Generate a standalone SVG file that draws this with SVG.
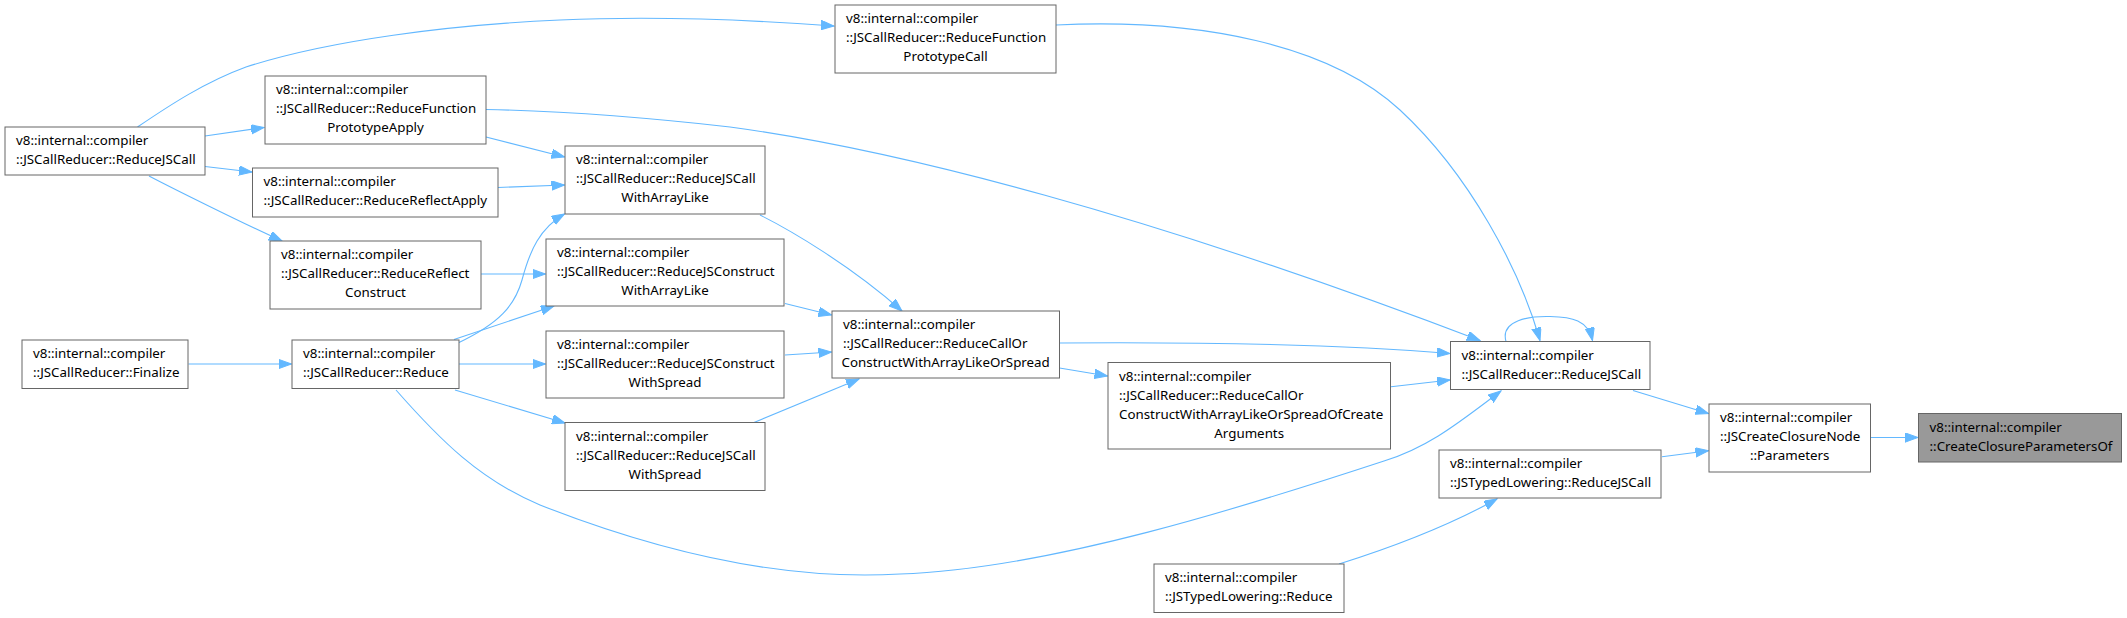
<svg xmlns="http://www.w3.org/2000/svg" width="2127" height="618" viewBox="0 0 2127 618">
<style>
.n rect{fill:#ffffff;stroke:#666666;stroke-width:1}
.n.t rect{fill:#999999}
.n text{font-family:"Noto Sans","Open Sans","DejaVu Sans",sans-serif;font-size:13.33px;fill:#000000}
.n text.c{text-anchor:middle}
.e path{fill:none;stroke:#63b8ff;stroke-width:1.1;marker-end:url(#arr)}
</style>
<defs>
<marker id="arr" markerUnits="userSpaceOnUse" markerWidth="14" markerHeight="10" refX="13" refY="4.7" orient="auto" viewBox="0 0 14 10">
<path d="M0,0 L13,4.7 L0,9.4 Z" fill="#63b8ff" stroke="#63b8ff" stroke-width="1"/>
</marker>
</defs>
<rect width="2127" height="618" fill="#ffffff"/>
<g id="edges" class="e">
<path d="M137.5,127 C170,105 205,82 246,67 C330,40 450,25 560,20 C650,16 740,19 834,26"/>
<path d="M205,136 L264,127.5"/>
<path d="M205,166.5 L252,172"/>
<path d="M149,176 C170,187 240,222 282,241"/>
<path d="M188.5,364 L291.5,364"/>
<path d="M486,137 L564.5,157"/>
<path d="M498,187.5 L564.5,185"/>
<path d="M481,274 L545.5,274"/>
<path d="M458,343 C500,323 515,305 522,280 C530,250 540,228 564.5,214"/>
<path d="M454,339.5 L554,306"/>
<path d="M459,364 L545.5,364"/>
<path d="M455,390 L565,423"/>
<path d="M396,390 C440,440 480,480 540,505 C680,560 800,580 900,574 C1050,569 1250,505 1384,461 C1430,447 1462,420 1501,391"/>
<path d="M760,215 C790,230 850,265 902,311"/>
<path d="M785,303.5 L831.5,315"/>
<path d="M785,355 L831.5,352"/>
<path d="M754,422.5 L859,379"/>
<path d="M1059.5,343 C1200,342 1350,345 1450,353.5"/>
<path d="M1059.5,368 L1107.5,376"/>
<path d="M1391,386.7 L1450,380"/>
<path d="M1056,25 C1200,18 1330,45 1400,110 C1470,175 1520,270 1540,340.5"/>
<path d="M486,109.5 C560,111 650,118 730,127 C900,150 1150,215 1480,340.5"/>
<path d="M1506,341.5 C1500,320 1530,316 1550,316.5 C1572,317 1588,320 1592.5,340.5"/>
<path d="M1633,390.5 L1708.5,413.5"/>
<path d="M1662,456.7 L1708.5,450.7"/>
<path d="M1870.5,437.5 L1918,437.5"/>
<path d="M1339,564 C1390,548 1450,525 1497,499"/>
</g>
<g id="n1" class="n"><rect x="5" y="127" width="200" height="48"/><text x="16" y="145.3">v8::internal::compiler</text><text x="16" y="164.3">::JSCallReducer::ReduceJSCall</text></g>
<g id="n2" class="n"><rect x="265" y="76" width="221" height="68"/><text x="276" y="94.3">v8::internal::compiler</text><text x="276" y="113.3">::JSCallReducer::ReduceFunction</text><text class="c" x="375.5" y="132.3">PrototypeApply</text></g>
<g id="n3" class="n"><rect x="252.5" y="168" width="245.5" height="49"/><text x="263.5" y="186.3">v8::internal::compiler</text><text x="263.5" y="205.3">::JSCallReducer::ReduceReflectApply</text></g>
<g id="n4" class="n"><rect x="270" y="241" width="211" height="68"/><text x="281" y="259.3">v8::internal::compiler</text><text x="281" y="278.3">::JSCallReducer::ReduceReflect</text><text class="c" x="375.5" y="297.3">Construct</text></g>
<g id="n5" class="n"><rect x="22" y="340" width="166" height="48.5"/><text x="33" y="358.3">v8::internal::compiler</text><text x="33" y="377.3">::JSCallReducer::Finalize</text></g>
<g id="n6" class="n"><rect x="292" y="340" width="167" height="48.5"/><text x="303" y="358.3">v8::internal::compiler</text><text x="303" y="377.3">::JSCallReducer::Reduce</text></g>
<g id="n7" class="n"><rect x="835" y="5" width="221" height="68"/><text x="846" y="23.3">v8::internal::compiler</text><text x="846" y="42.3">::JSCallReducer::ReduceFunction</text><text class="c" x="945.5" y="61.3">PrototypeCall</text></g>
<g id="n8" class="n"><rect x="565" y="146" width="200" height="68"/><text x="576" y="164.3">v8::internal::compiler</text><text x="576" y="183.3">::JSCallReducer::ReduceJSCall</text><text class="c" x="665" y="202.3">WithArrayLike</text></g>
<g id="n9" class="n"><rect x="546" y="239" width="238" height="67"/><text x="557" y="257.3">v8::internal::compiler</text><text x="557" y="276.3">::JSCallReducer::ReduceJSConstruct</text><text class="c" x="665" y="295.3">WithArrayLike</text></g>
<g id="n10" class="n"><rect x="546" y="331" width="238" height="67"/><text x="557" y="349.3">v8::internal::compiler</text><text x="557" y="368.3">::JSCallReducer::ReduceJSConstruct</text><text class="c" x="665" y="387.3">WithSpread</text></g>
<g id="n11" class="n"><rect x="565" y="422.5" width="200" height="68"/><text x="576" y="440.8">v8::internal::compiler</text><text x="576" y="459.8">::JSCallReducer::ReduceJSCall</text><text class="c" x="665" y="478.8">WithSpread</text></g>
<g id="n12" class="n"><rect x="832" y="311" width="227.5" height="67"/><text x="843" y="329.3">v8::internal::compiler</text><text x="843" y="348.3">::JSCallReducer::ReduceCallOr</text><text class="c" x="945.7" y="367.3">ConstructWithArrayLikeOrSpread</text></g>
<g id="n13" class="n"><rect x="1108" y="362.5" width="282.5" height="86.5"/><text x="1119" y="380.8">v8::internal::compiler</text><text x="1119" y="399.8">::JSCallReducer::ReduceCallOr</text><text x="1119" y="418.8">ConstructWithArrayLikeOrSpreadOfCreate</text><text class="c" x="1249.2" y="437.8">Arguments</text></g>
<g id="n14" class="n"><rect x="1450.5" y="341.5" width="199.5" height="48"/><text x="1461.5" y="359.8">v8::internal::compiler</text><text x="1461.5" y="378.8">::JSCallReducer::ReduceJSCall</text></g>
<g id="n15" class="n"><rect x="1709" y="404" width="161.5" height="68"/><text x="1720" y="422.3">v8::internal::compiler</text><text x="1720" y="441.3">::JSCreateClosureNode</text><text class="c" x="1789.7" y="460.3">::Parameters</text></g>
<g id="n16" class="n t"><rect x="1918.5" y="413.5" width="203" height="48.5"/><text x="1929.5" y="431.8">v8::internal::compiler</text><text x="1929.5" y="450.8">::CreateClosureParametersOf</text></g>
<g id="n17" class="n"><rect x="1439" y="450" width="222" height="48"/><text x="1450" y="468.3">v8::internal::compiler</text><text x="1450" y="487.3">::JSTypedLowering::ReduceJSCall</text></g>
<g id="n18" class="n"><rect x="1154" y="564" width="190" height="48.5"/><text x="1165" y="582.3">v8::internal::compiler</text><text x="1165" y="601.3">::JSTypedLowering::Reduce</text></g>
</svg>
